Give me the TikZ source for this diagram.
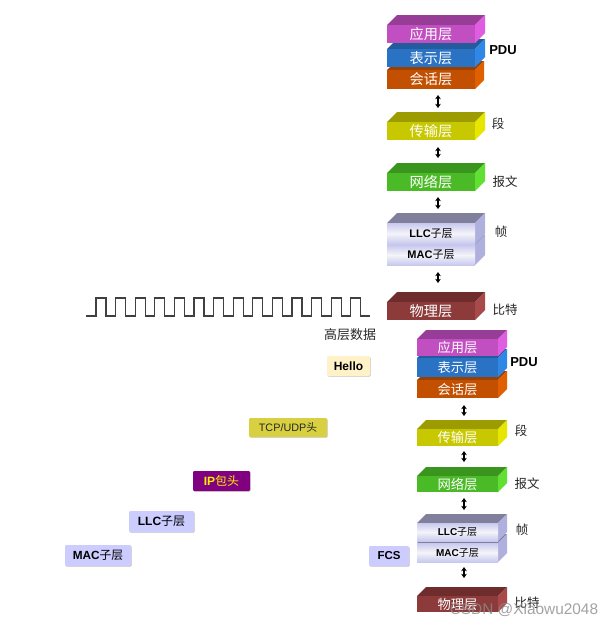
\documentclass[tikz,border=0pt]{standalone}
\usepackage{fontspec}
\setmainfont{Liberation Sans}
\newfontfamily\zh{Noto Sans CJK SC}
\usetikzlibrary{arrows.meta,shadows}
\newcommand{\fs}[1]{\fontsize{#1}{#1}\selectfont}
\definecolor{appT}{HTML}{973C97}\definecolor{appF}{HTML}{C24FC2}\definecolor{appS}{HTML}{E05CE0}
\definecolor{preT}{HTML}{225C9C}\definecolor{preF}{HTML}{2A72C4}\definecolor{preS}{HTML}{3088E6}
\definecolor{sesT}{HTML}{9C4000}\definecolor{sesF}{HTML}{C25000}\definecolor{sesS}{HTML}{E06000}
\definecolor{traT}{HTML}{9C9C00}\definecolor{traF}{HTML}{C8C800}\definecolor{traS}{HTML}{E6E600}
\definecolor{netT}{HTML}{3A951E}\definecolor{netF}{HTML}{4ABA26}\definecolor{netS}{HTML}{60E030}
\definecolor{dllT}{HTML}{80809C}\definecolor{dllE}{HTML}{C8C8EE}\definecolor{dllM}{HTML}{F4F4FA}\definecolor{dllS}{HTML}{B0B0DE}
\definecolor{phyT}{HTML}{6E2C2C}\definecolor{phyF}{HTML}{8C3A3A}\definecolor{phyS}{HTML}{A84A4A}
\definecolor{helloC}{HTML}{FFF2C8}\definecolor{tcpC}{HTML}{D8D040}\definecolor{ipC}{HTML}{800080}\definecolor{subC}{HTML}{CCCCFF}
\tikzset{
  slabface/.style={inner sep=0pt,outer sep=0pt,anchor=north west,text=white},
  appK/.style={fill=appF},preK/.style={fill=preF},sesK/.style={fill=sesF},
  traK/.style={fill=traF},netK/.style={fill=netF},phyK/.style={fill=phyF},
  dllK/.style={top color=dllE,bottom color=dllE,middle color=dllM,text=black},
  updown/.style={{Stealth[length=4.2pt,width=5.6pt]}-{Stealth[length=4.2pt,width=5.6pt]},line width=1.2pt,black},
  sidelabel/.style={inner sep=0pt,font=\zh\fs{12.5},text=black!85},
  pdulabel/.style={inner sep=0pt,font=\bfseries\fs{13},text=black},
  tagbox/.style={inner sep=0pt,outer sep=0pt,rounded corners=1.2pt,anchor=north west,
    drop shadow={shadow xshift=0.6pt,shadow yshift=-0.7pt,fill=black,opacity=.25}},
  wave/.style={line width=1.1pt,draw=black!75,line join=miter},
  mark text/.style={inner sep=0pt,text=black!45,opacity=.8,font=\fs{15.4}}
}
% name, left, top of front, right of front, bottom of front, depth, colour key, text
\newcommand{\slab}[8]{%
  \fill[#7T] (#2,#3) -- (#2+#6,#3-#6) -- (#4+#6,#3-#6) -- (#4,#3) -- cycle;
  \fill[#7S] (#4,#3) -- (#4+#6,#3-#6) -- (#4+#6,#5-#6) -- (#4,#5) -- cycle;
  \node[slabface,#7K,minimum width={(#4-#2)*1pt},minimum height={(#5-#3)*1pt}] (#1) at (#2,#3) {\raisebox{-1pt}{#8}};
}
\newcommand{\link}[5]{\draw[updown,shorten <=#4pt,shorten >=#5pt] ([xshift=#3pt]#1.south) -- ([xshift=#3pt]#2.north);}
\newcommand{\tagnode}[8]{\node[tagbox,fill=#6,text=#7,minimum width={(#4-#2)*1pt},minimum height={(#5-#3)*1pt}] (#1) at (#2,#3) {#8};}
\begin{document}
\begin{tikzpicture}[x=1pt,y=-1pt]
\useasboundingbox (0,0) rectangle (614,625);
\fill[white] (0,0) rectangle (614,625);
% upper stack
\slab{sesA}{387}{70}{475}{89}{9}{ses}{\zh\fs{14.2}会话层}
\slab{preA}{387}{49}{475}{67}{10}{pre}{\zh\fs{14.2}表示层}
\slab{appA}{387}{25}{475}{43}{10}{app}{\zh\fs{14.2}应用层}
\slab{traA}{387}{122}{475}{140}{10}{tra}{\zh\fs{14.2}传输层}
\slab{netA}{387}{173}{475}{191}{10}{net}{\zh\fs{14.2}网络层}
\slab{macA}{387}{245}{475}{265}{10}{dll}{\fs{11}\textbf{MAC}{\zh 子层}}
\slab{llcA}{387}{223}{475}{244}{10}{dll}{\fs{11}\textbf{LLC}{\zh 子层}}
\slab{phyA}{387}{302}{475}{320}{10}{phy}{\zh\fs{14.2}物理层}
\link{sesA}{traA}{7}{6}{14}
\link{traA}{netA}{7}{7}{15}
\link{netA}{llcA}{7}{6}{14}
\link{macA}{phyA}{7}{7}{19}
\node[pdulabel] (pduA) at (503,50) {PDU};
\node[sidelabel] (segA) at (498,124) {段};
\node[sidelabel] (pktA) at (505,182) {报文};
\node[sidelabel] (frmA) at (501,232) {帧};
\node[sidelabel] (bitA) at (505,310) {比特};
% signal
\draw[wave] (86,316) -- (96,316)
  \foreach \k in {0,...,13} { -- ({96+19.6*\k},298) -- ({106+19.6*\k},298) -- ({106+19.6*\k},316) -- ({115.6+19.6*\k},316)};
\node[inner sep=0pt,font=\zh\fs{13},text=black!85] (hdata) at (350,335) {高层数据};
% lower stack
\slab{sesB}{417}{380}{498}{398}{9}{ses}{\zh\fs{13.3}会话层}
\slab{preB}{417}{358}{498}{377}{9}{pre}{\zh\fs{13.3}表示层}
\slab{appB}{417}{339}{498}{356}{9}{app}{\zh\fs{13.3}应用层}
\slab{traB}{417}{429}{498}{446}{9}{tra}{\zh\fs{13.3}传输层}
\slab{netB}{417}{476}{498}{492}{9}{net}{\zh\fs{13.3}网络层}
\slab{macB}{417}{543}{498}{562}{9}{dll}{\fs{10}\textbf{MAC}{\zh 子层}}
\slab{llcB}{417}{523}{498}{541}{9}{dll}{\fs{10}\textbf{LLC}{\zh 子层}}
\slab{phyB}{417}{596}{498}{612}{9}{phy}{\zh\fs{13.3}物理层}
\link{sesB}{traB}{6.5}{7}{13}
\link{traB}{netB}{6.5}{5}{14}
\link{netB}{llcB}{6.5}{6}{13}
\link{macB}{phyB}{6.5}{5}{18}
\node[pdulabel] (pduB) at (524,362) {PDU};
\node[sidelabel] (segB) at (521,431) {段};
\node[sidelabel] (pktB) at (527,484) {报文};
\node[sidelabel] (frmB) at (522,530) {帧};
\node[sidelabel] (bitB) at (527,603) {比特};
% headers
\tagnode{hello}{327}{356}{370}{376}{helloC}{black}{\fs{12}\textbf{Hello}}
\tagnode{tcp}{249}{418}{327}{437}{tcpC}{black!85}{\fs{10.8}TCP/UDP{\zh 头}}
\tagnode{ip}{193}{471}{250}{491}{ipC}{yellow}{\fs{12}\textbf{IP}{\zh 包头}}
\tagnode{llcT}{129}{511}{194}{532}{subC}{black}{\fs{12}\textbf{LLC}{\zh 子层}}
\tagnode{macT}{65}{545}{131}{566}{subC}{black}{\fs{11.8}\textbf{MAC}{\zh 子层}}
\tagnode{fcs}{369}{546}{409}{566}{subC}{black}{\fs{11.5}\textbf{FCS}}
% watermark
\node[mark text] (wm) at (524,610) {CSDN @Xiaowu2048};
\end{tikzpicture}
\end{document}
